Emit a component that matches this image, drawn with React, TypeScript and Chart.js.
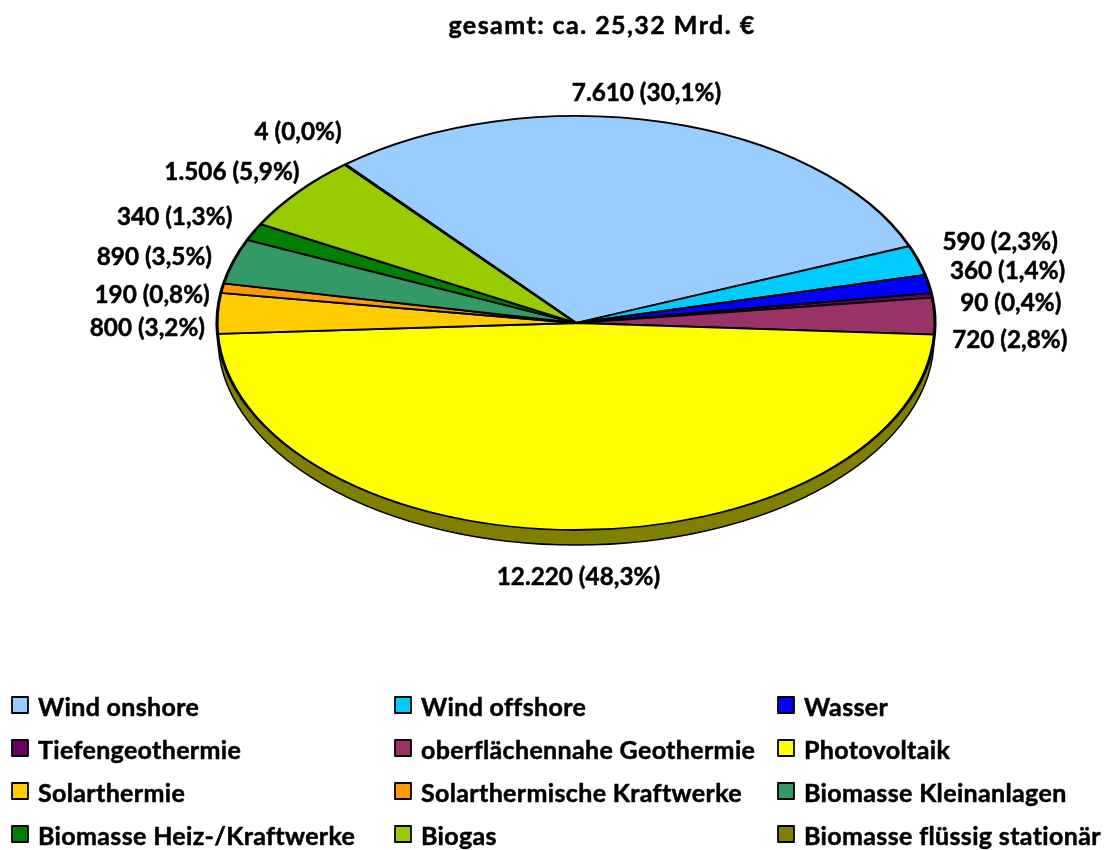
import React, { useEffect, useRef } from "react";
import { Chart, registerables } from "chart.js";

Chart.register(...registerables);

const categories = [
  "Wind onshore", "Wind offshore", "Wasser", "Tiefengeothermie",
  "oberflächennahe Geothermie", "Photovoltaik", "Solarthermie",
  "Solarthermische Kraftwerke", "Biomasse Kleinanlagen",
  "Biomasse Heiz-/Kraftwerke", "Biogas", "Biomasse flüssig stationär",
];
const values = [7610, 590, 360, 90, 720, 12220, 800, 190, 890, 340, 1506, 4];
const valueLabels = [
  "7.610 (30,1%)", "590 (2,3%)", "360 (1,4%)", "90 (0,4%)", "720 (2,8%)",
  "12.220 (48,3%)", "800 (3,2%)", "190 (0,8%)", "890 (3,5%)", "340 (1,3%)",
  "1.506 (5,9%)", "4 (0,0%)",
];
const colors = [
  "#99CCFF", "#00CCFF", "#0000FF", "#660066", "#993366", "#FFFF00",
  "#FFCC00", "#FF9900", "#339966", "#008000", "#99CC00", "#808000",
];
const titleText = "gesamt: ca. 25,32 Mrd. €";

// Layout of the drawing (not data)
const RX = 359;
const RY = 207;
const DEPTH = 15;
const labelNudge: [number, number][] = [
  [-17, -29], [82, -18], [79, -13], [79, 8], [75, 24], [3, 47],
  [-70, 15], [-70, 7], [-79, -4], [-79, -15], [-66, -20], [-47, -32],
];
const legendX = [11, 394, 777];
const legendY = [696, 739, 782, 825];
const FONT = "Lato, Carlito, sans-serif";

function heavyText(ctx: any, text: string, x: number, y: number) {
  ctx.lineWidth = 0.5;
  ctx.strokeStyle = "#000";
  ctx.lineJoin = "round";
  ctx.strokeText(text, x, y);
  ctx.fillText(text, x, y);
}

const squash = {
  id: "squash",
  beforeDatasetsDraw(chart: any) {
    const a = chart.getDatasetMeta(0).data[0];
    const ctx = chart.ctx;
    ctx.save();
    ctx.beginPath();
    ctx.ellipse(a.x, a.y + DEPTH, RX - 1, RY, 0, 0, Math.PI * 2);
    ctx.fillStyle = colors[colors.length - 1];
    ctx.fill();
    ctx.lineWidth = 1.5;
    ctx.strokeStyle = "#000";
    ctx.stroke();
    ctx.restore();
    ctx.save();
    ctx.translate(a.x, a.y);
    ctx.scale(RX / a.outerRadius, RY / a.outerRadius);
    ctx.translate(-a.x, -a.y);
  },
  afterDatasetsDraw(chart: any) {
    chart.ctx.restore();
  },
};

const annotate = {
  id: "annotate",
  afterDraw(chart: any) {
    const ctx = chart.ctx;
    const arcs = chart.getDatasetMeta(0).data;
    ctx.save();
    ctx.fillStyle = "#000";
    ctx.textBaseline = "middle";

    ctx.textAlign = "center";
    ctx.font = `bold 25px ${FONT}`;
    (ctx as any).letterSpacing = "1.45px";
    heavyText(ctx, titleText, 602, 26);
    (ctx as any).letterSpacing = "0px";

    ctx.font = `bold 24.3px ${FONT}`;
    arcs.forEach((arc: any, i: number) => {
      const mid = (arc.startAngle + arc.endAngle) / 2;
      const ex = arc.x + RX * Math.cos(mid);
      const ey = arc.y + RY * Math.sin(mid);
      const [dx, dy] = labelNudge[i];
      heavyText(ctx, valueLabels[i], ex + dx, ey + dy);
    });

    ctx.textAlign = "left";
    ctx.font = `bold 25px ${FONT}`;
    (ctx as any).letterSpacing = "0.35px";
    categories.forEach((name, i) => {
      const x = legendX[i % 3];
      const y = legendY[Math.floor(i / 3)];
      ctx.fillStyle = colors[i];
      ctx.fillRect(x + 1, y + 1, 16, 16);
      ctx.strokeStyle = "#000";
      ctx.lineWidth = 1.8;
      ctx.strokeRect(x + 1, y + 1, 16, 16);
      ctx.fillStyle = "#000";
      heavyText(ctx, name, x + 27, y + 12);
    });
    ctx.restore();
  },
};

export default function App() {
  const ref = useRef<HTMLCanvasElement>(null);
  useEffect(() => {
    const chart = new Chart(ref.current!, {
      type: "pie",
      data: {
        labels: categories,
        datasets: [{
          data: values,
          backgroundColor: colors,
          borderColor: "#000",
          borderWidth: 2.8,
        }],
      },
      options: {
        responsive: false,
        animation: false,
        rotation: -40,
        layout: { padding: { left: 47, right: 0, top: 0, bottom: 204 } },
        plugins: { legend: { display: false }, tooltip: { enabled: false }, title: { display: false } },
      },
      plugins: [squash, annotate],
    } as any);
    return () => chart.destroy();
  }, []);
  return (
    <canvas
      ref={ref}
      width={1105}
      height={850}
      style={{ position: "fixed", left: 0, top: 0, width: 1105, height: 850, background: "#fff" }}
    />
  );
}
